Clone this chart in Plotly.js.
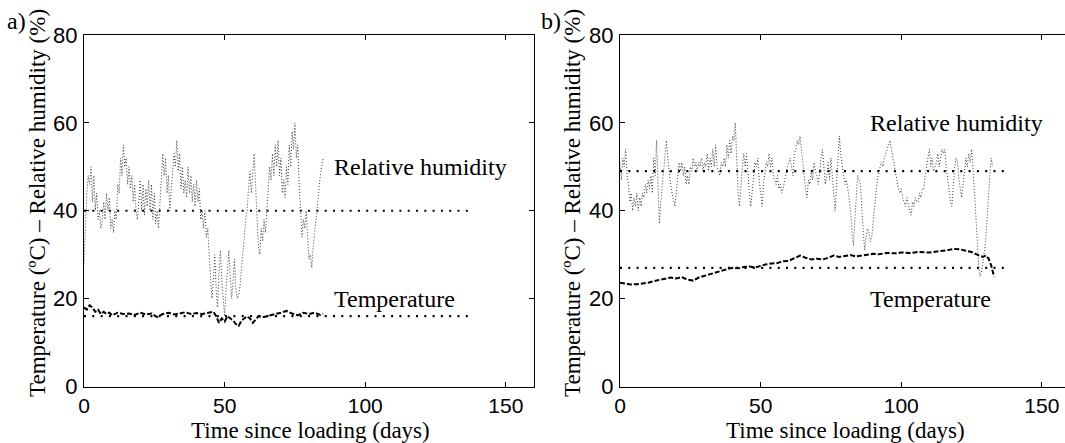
<!DOCTYPE html>
<html><head><meta charset="utf-8">
<script src="https://cdn.plot.ly/plotly-3.0.1.min.js"></script>
<style>html,body{margin:0;padding:0;overflow:hidden;background:#fff}#chart{width:1080px;height:443px}</style>
</head><body><div id="chart"></div>
<script>
// ---- data ----
const leftRhDays = [0,0.5,1,1.5,2,2.5,3,3.5,4,4.5,5,5.5,6,6.5,7,7.5,8,8.5,9,9.5,10,10.5,11,11.5,12,12.5,13,13.5,14,14.5,15,15.5,16,16.5,17,17.5,18,18.5,19,19.5,20,20.5,21,21.5,22,22.5,23,23.5,24,24.5,25,25.5,26,26.5,27,27.5,28,28.5,29,29.5,30,30.5,31,31.5,32,32.5,33,33.5,34,34.5,35,35.5,36,36.5,37,37.5,38,38.5,39,39.5,40,40.5,41,41.5,42,42.5,43,43.5,44,44.5,45,45.5,46,46.5,47,47.5,48,48.5,49,49.5,50,50.5,51,51.5,52,52.5,53,53.5,54,54.5,55,55.5,56,56.5,57,57.5,58,58.5,59,59.5,60,60.5,61,61.5,62,62.5,63,63.5,64,64.5,65,65.5,66,66.5,67,67.5,68,68.5,69,69.5,70,70.5,71,71.5,72,72.5,73,73.5,74,74.5,75,75.5,76,76.5,77,77.5,78,78.5,79,79.5,80,80.5,81,81.5,82,82.5,83,83.5,84,84.5,85];
const leftRhValues = [28,38,44,48,46,50,42,48,40,44,38,40,36,38,42,38,44,40,43,36,38,35,40,38,46,44,52,48,55,50,52,46,50,45,48,42,46,40,38,42,47,40,46,39,45,41,47,40,46,38,44,37,40,36,42,46,53,48,52,44,48,40,44,48,53,50,56,49,53,45,50,44,47,43,50,44,48,42,46,41,47,42,45,38,40,36,40,34,36,30,26,20,24,30,22,18,26,31,24,19,16,22,28,31,25,20,24,29,22,20,21,23,27,30,34,38,40,45,49,44,50,53,46,40,32,30,36,33,38,35,40,45,50,47,53,48,55,50,56,48,52,44,47,43,50,46,55,50,58,54,60,52,55,46,40,34,38,36,40,33,29,30,27,32,36,38,41,45,48,50,52];
const leftTempDays = [0,1,2,3,4,5,6,7,8,9,10,12,14,16,18,20,22,24,26,28,30,32,34,36,38,40,42,44,46,47,48,49,50,51,52,53,54,55,56,57,58,59,60,61,62,64,66,68,70,72,74,76,78,80,82,84,85];
const leftTempValues = [18,17.5,18.5,18,17,17.5,16.5,17,16.5,16.8,16.2,16.8,16.5,16.6,16.3,16.8,16.4,16.6,15.8,16.5,16.8,16.4,16.6,16.9,16.5,16.7,16.5,16.8,17,16,14.5,15.5,14.8,16,15.5,15,14.2,13.8,15,15.5,16,15.5,14.5,15.2,16,15.8,16.2,16.5,16.8,17.2,16.6,16.2,16.8,16.5,16.8,16.3,16.5];
const rightRhDays = [0,0.5,1,1.5,2,2.5,3,3.5,4,4.5,5,5.5,6,6.5,7,7.5,8,8.5,9,9.5,10,10.5,11,11.5,12,12.5,13,13.5,14,14.5,15,15.5,16,16.5,17,17.5,18,18.5,19,19.5,20,20.5,21,21.5,22,22.5,23,23.5,24,24.5,25,25.5,26,26.5,27,27.5,28,28.5,29,29.5,30,30.5,31,31.5,32,32.5,33,33.5,34,34.5,35,35.5,36,36.5,37,37.5,38,38.5,39,39.5,40,40.5,41,41.5,42,42.5,43,43.5,44,44.5,45,45.5,46,46.5,47,47.5,48,48.5,49,49.5,50,50.5,51,51.5,52,52.5,53,53.5,54,54.5,55,55.5,56,56.5,57,57.5,58,58.5,59,59.5,60,60.5,61,61.5,62,62.5,63,63.5,64,64.5,65,65.5,66,66.5,67,67.5,68,68.5,69,69.5,70,70.5,71,71.5,72,72.5,73,73.5,74,74.5,75,75.5,76,76.5,77,77.5,78,78.5,79,79.5,80,80.5,81,81.5,82,82.5,83,83.5,84,84.5,85,85.5,86,86.5,87,87.5,88,88.5,89,89.5,90,90.5,91,91.5,92,92.5,93,93.5,94,94.5,95,95.5,96,96.5,97,97.5,98,98.5,99,99.5,100,100.5,101,101.5,102,102.5,103,103.5,104,104.5,105,105.5,106,106.5,107,107.5,108,108.5,109,109.5,110,110.5,111,111.5,112,112.5,113,113.5,114,114.5,115,115.5,116,116.5,117,117.5,118,118.5,119,119.5,120,120.5,121,121.5,122,122.5,123,123.5,124,124.5,125,125.5,126,126.5,127,127.5,128,128.5,129,129.5,130,130.5,131,131.5,132,132.5];
const rightRhValues = [51,47,52,50,54,48,46,42,44,40,43,41,44,40,43,41,44,43,46,44,47,45,48,44,52,48,56,44,37,42,46,50,52,56,52,48,46,44,42,41,44,48,51,49,51,48,50,46,48,46,50,49,52,50,51,49,51,50,52,49,51,50,53,49,52,50,54,50,55,50,49,48,51,50,52,50,55,52,56,53,57,56,60,52,44,41,46,50,53,50,53,48,44,41,45,48,51,50,52,47,44,41,46,49,51,50,53,50,52,48,47,46,48,45,46,44,45,47,48,50,51,52,50,48,53,54,56,55,57,54,50,48,45,43,47,46,49,47,51,49,48,46,50,52,54,50,46,48,51,47,52,48,44,40,46,52,57,53,50,48,46,47,45,43,40,35,32,38,44,48,47,46,40,34,31,34,36,35,33,34,38,42,44,47,49,50,51,50,52,53,54,55,56,54,52,50,48,47,45,44,45,43,42,41,43,41,40,39,42,41,43,42,42,44,43,45,45,48,50,52,54,50,52,49,50,51,53,50,52,54,53,54,50,47,44,42,41,46,50,52,51,47,45,43,46,50,52,50,53,51,54,50,44,38,31,28,25,26,28,30,33,38,44,48,52,50];
const rightTempDays = [0,2,4,6,8,10,12,14,16,18,20,22,24,26,28,30,32,34,36,38,40,42,44,46,48,50,52,54,56,58,60,62,64,66,68,70,72,74,76,78,80,82,84,86,88,90,92,95,98,100,103,106,110,113,116,119,121,123,125,127,129,130,131,132,133];
const rightTempValues = [23.6,23.4,23.2,23.3,23.5,23.6,24,24.3,24.6,24.8,24.6,24.9,24.3,24.1,24.8,25.2,25.6,25.9,26.3,26.7,27,26.9,27.2,27.3,27.1,27.5,27.8,28,28.1,28.5,28.6,29.2,29.8,29.3,28.9,29.1,28.9,29.3,29.8,29.5,29.7,29.9,29.6,29.8,30,30.2,30.1,30.4,30.3,30.5,30.4,30.6,30.5,30.7,31,31.3,31.2,30.9,30.6,30,29.5,29.8,29.2,27.5,25];
const refDays = [0, 138];
const leftRhRef = [40, 40];
const leftTempRef = [16, 16];
const rightRhRef = [49, 49];
const rightTempRef = [27, 27];
const xTicks = [0, 50, 100, 150];
const yTicks = [0, 20, 40, 60, 80];
const panelLabels = ['a)', 'b)'];
const yTitle = 'Temperature (ºC) – Relative humidity (%)';
const xTitle = 'Time since loading (days)';
const rhLabel = 'Relative humidity';
const tempLabel = 'Temperature';

// ---- drawing ----
const W = 1080, H = 443;
const serif = '"Liberation Serif", "Times New Roman", Times, serif';
const sans = '"Liberation Sans", Arial, Helvetica, sans-serif';
const rhLine = {color: '#3a3a3a', width: 1, dash: '1px,2px'};
const tLine = {color: '#000', width: 2, dash: '5px,2px'};
const refLine = {color: '#000', width: 2.2, dash: '2px,6.3px'};

function tr(x, y, line, xa, ya) {
  return {x: x, y: y, type: 'scatter', mode: 'lines', line: line, xaxis: xa, yaxis: ya, hoverinfo: 'skip', showlegend: false};
}
const data = [
  tr(leftRhDays, leftRhValues, rhLine, 'x', 'y'),
  tr(leftTempDays, leftTempValues, tLine, 'x', 'y'),
  tr(refDays, leftRhRef, refLine, 'x', 'y'),
  tr(refDays, leftTempRef, refLine, 'x', 'y'),
  tr(rightRhDays, rightRhValues, rhLine, 'x2', 'y2'),
  tr(rightTempDays, rightTempValues, tLine, 'x2', 'y2'),
  tr(refDays, rightRhRef, refLine, 'x2', 'y2'),
  tr(refDays, rightTempRef, refLine, 'x2', 'y2')
];

const yDom = [(H - 386.5) / H, (H - 35) / H];
function xAx(dom, anchor) {
  return {domain: dom, anchor: anchor, range: [0, 160], tickvals: xTicks, ticktext: xTicks.map(String),
    showline: true, linecolor: '#000', linewidth: 1, mirror: 'ticks', ticks: 'inside', ticklen: 5, tickcolor: '#000',
    showgrid: false, zeroline: false, tickfont: {family: sans, size: 21, color: '#000'}, ticklabelstandoff: 0};
}
function yAx(anchor) {
  return {domain: yDom, anchor: anchor, range: [0, 80], tickvals: yTicks, ticktext: yTicks.map(String),
    showline: true, linecolor: '#000', linewidth: 1, mirror: 'ticks', ticks: 'inside', ticklen: 5, tickcolor: '#000',
    showgrid: false, zeroline: false, tickfont: {family: sans, size: 22, color: '#000'}, ticklabelstandoff: 1};
}
function pa(px, py, text, extra) {
  return Object.assign({xref: 'paper', yref: 'paper', x: px / W, y: 1 - py / H, text: text, showarrow: false,
    xanchor: 'center', yanchor: 'middle', font: {family: serif, size: 24, color: '#000'}}, extra || {});
}
function da(xr, yr, x, y, text) {
  return {xref: xr, yref: yr, x: x, y: y, text: text, showarrow: false, xanchor: 'left', yanchor: 'middle',
    font: {family: serif, size: 24, color: '#000'}};
}
const xtFont = {family: serif, size: 23, color: '#000'};
const layout = {
  width: W, height: H, margin: {l: 0, r: 0, t: 0, b: 0},
  paper_bgcolor: '#fff', plot_bgcolor: '#fff', showlegend: false,
  xaxis: xAx([84 / W, 534 / W], 'y'),
  yaxis: yAx('x'),
  xaxis2: xAx([620 / W, 1070 / W], 'y2'),
  yaxis2: yAx('x2'),
  annotations: [
    pa(37, 203, yTitle, {textangle: -90, font: {family: serif, size: 23, color: '#000'}}),
    pa(572, 203, yTitle, {textangle: -90, font: {family: serif, size: 23, color: '#000'}}),
    pa(310, 430, xTitle, {font: xtFont}),
    pa(845, 430, xTitle, {font: xtFont}),
    pa(16, 21, panelLabels[0]),
    pa(551, 21, panelLabels[1]),
    da('x', 'y', 88, 50, rhLabel),
    da('x', 'y', 88, 20, tempLabel),
    da('x2', 'y2', 88, 60, rhLabel),
    da('x2', 'y2', 88, 20, tempLabel)
  ]
};
Plotly.newPlot('chart', data, layout, {staticPlot: true, displayModeBar: false});
</script>
</body></html>
